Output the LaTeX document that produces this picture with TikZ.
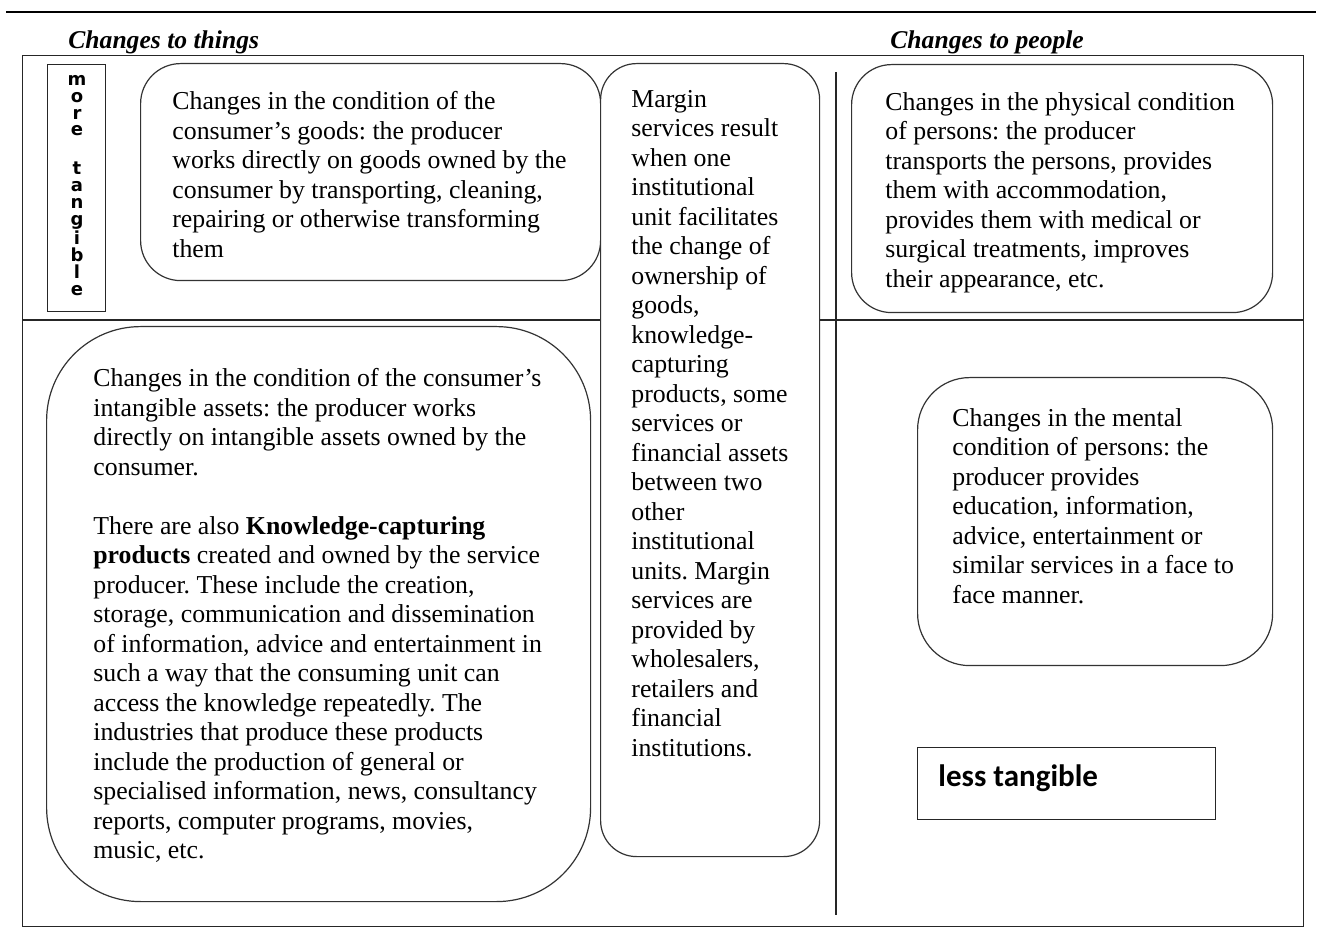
\documentclass[tikz,border=0pt]{standalone}
\usepackage{fontspec}
\setmainfont{Liberation Serif}
\newfontfamily\tagfont{DejaVu Sans}
\newfontfamily\lessfont{Carlito}
\frenchspacing
\begin{document}
\begin{tikzpicture}[x=0.5pt,y=-0.5pt,
  frame/.style={draw=black!85,line width=0.7pt},
  rbox/.style={draw=black!80,line width=0.6pt,fill=white,anchor=north west,inner sep=0pt},
  body/.style={anchor=north west,inner sep=0pt,align=left,font=\frenchspacing\fontsize{12.9}{14.75}\selectfont},
  head/.style={anchor=west,inner sep=0pt,font=\fontsize{12.8}{14}\selectfont\bfseries\itshape},
  sq/.style={draw=black!85,line width=0.7pt,fill=white,anchor=north west,inner sep=0pt}]
\useasboundingbox (0,0) rectangle (1322,929);
% top rule
\coordinate (tl) at (6,12);
\coordinate (tr) at (1316,12);
\draw[line width=1.4pt] (tl) -- (tr);
% headers
\node[head] (h1) at (68,42) {Changes to things};
\node[head] (h2) at (890,42) {Changes to people};
% frame and dividers
\node[frame,anchor=north west,minimum width=1281*0.5pt,minimum height=871*0.5pt,inner sep=0pt] (frame) at (22,55) {};
\coordinate (ml) at (22,320);
\coordinate (mr) at (1303,320);
\draw[frame] (ml) -- (mr);
\coordinate (vt) at (836,72);
\coordinate (vb) at (836,915);
\draw[frame] (vt) -- (vb);
% more tangible
\node[sq,minimum width=58*0.5pt,minimum height=247*0.5pt] (more) at (47,64) {};
\node[anchor=north,inner sep=0pt,align=center,font=\tagfont\bfseries\fontsize{9}{8.4}\selectfont] (moretxt) at (77,75)
 {m\\o\\r\\e\\[11pt]t\\a\\n\\g\\i\\b\\l\\e};
% box A
\node[rbox,rounded corners=20pt,minimum width=460*0.5pt,minimum height=217*0.5pt] (boxA) at (140,63) {};
\node[body] (txtA) at (172,91) {Changes in the condition of the\\
consumer’s goods: the producer\\
works directly on goods owned by the\\
consumer by transporting, cleaning,\\
repairing or otherwise transforming\\
them};
% box B
\node[rbox,rounded corners=47pt,minimum width=544*0.5pt,minimum height=575*0.5pt] (boxB) at (46,326) {};
\node[body] (txtB) at (93,368) {Changes in the condition of the consumer’s\\
intangible assets: the producer works\\
directly on intangible assets owned by the\\
consumer.\\[14.75pt]
There are also \textbf{Knowledge-capturing}\\
\textbf{products} created and owned by the service\\
producer. These include the creation,\\
storage, communication and dissemination\\
of information, advice and entertainment in\\
such a way that the consuming unit can\\
access the knowledge repeatedly. The\\
industries that produce these products\\
include the production of general or\\
specialised information, news, consultancy\\
reports, computer programs, movies,\\
music, etc.};
% box M
\node[rbox,rounded corners=18pt,minimum width=219*0.5pt,minimum height=793*0.5pt] (boxM) at (600,63) {};
\node[body] (txtM) at (631,90) {Margin\\
services result\\
when one\\
institutional\\
unit facilitates\\
the change of\\
ownership of\\
goods,\\
knowledge-\\
capturing\\
products, some\\
services or\\
financial assets\\
between two\\
other\\
institutional\\
units. Margin\\
services are\\
provided by\\
wholesalers,\\
retailers and\\
financial\\
institutions.};
% box P
\node[rbox,rounded corners=20pt,minimum width=421*0.5pt,minimum height=248*0.5pt] (boxP) at (851,64) {};
\node[body] (txtP) at (885,92) {Changes in the physical condition\\
of persons: the producer\\
transports the persons, provides\\
them with accommodation,\\
provides them with medical or\\
surgical treatments, improves\\
their appearance, etc.};
% box mental
\node[rbox,rounded corners=26pt,minimum width=355*0.5pt,minimum height=288*0.5pt] (boxN) at (917,377) {};
\node[body] (txtN) at (952,408) {Changes in the mental\\
condition of persons: the\\
producer provides\\
education, information,\\
advice, entertainment or\\
similar services in a face to\\
face manner.};
% less tangible
\node[sq,minimum width=298*0.5pt,minimum height=72*0.5pt] (less) at (917,747) {};
\node[anchor=west,inner sep=0pt,font=\lessfont\bfseries\fontsize{15.5}{17}\selectfont] (lesstxt) at (938,778) {less tangible};
\end{tikzpicture}
\end{document}
